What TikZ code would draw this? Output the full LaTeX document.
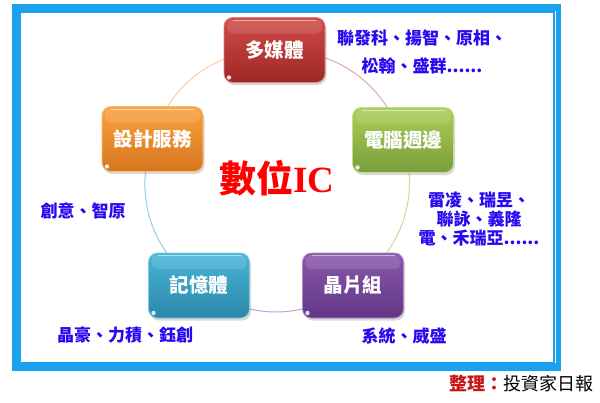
\documentclass[tikz,border=0pt]{standalone}
\usepackage{fontspec}
\setmainfont{Noto Sans CJK TC}
\newfontfamily\serifIC{Liberation Serif}
\usetikzlibrary{backgrounds,shadows}
\pgfdeclarelayer{back}
\pgfsetlayers{back,background,main}
\definecolor{framebl}{RGB}{26,163,236}
\definecolor{lblue}{RGB}{40,10,240}
\definecolor{footred}{RGB}{200,20,20}
\definecolor{redT}{RGB}{208,74,70}\definecolor{redB}{RGB}{158,40,38}
\definecolor{orT}{RGB}{250,162,62}\definecolor{orB}{RGB}{214,118,32}
\definecolor{grT}{RGB}{170,206,88}\definecolor{grB}{RGB}{122,158,58}
\definecolor{puT}{RGB}{138,88,172}\definecolor{puB}{RGB}{98,54,134}
\definecolor{teT}{RGB}{72,182,216}\definecolor{teB}{RGB}{44,134,170}
\begin{document}
\begin{tikzpicture}[x=1pt,y=-1pt,
  box/.style={rounded corners=9pt, minimum width=101pt, minimum height=65pt,
    text=white, font=\fontsize{19.5}{20}\selectfont\bfseries, line width=0.8pt,
    drop shadow={opacity=0.3,shadow xshift=1.5pt,shadow yshift=-2.5pt},
    path picture={
      \fill[white,opacity=0.12,rounded corners=6pt]
        ([xshift=3pt,yshift=-2pt]path picture bounding box.north west) rectangle
        ([xshift=-3pt,yshift=-16pt]path picture bounding box.north east);
      \draw[white,opacity=0.5,line width=1pt]
        ([xshift=9pt,yshift=-2.5pt]path picture bounding box.north west) --
        ([xshift=-9pt,yshift=-2.5pt]path picture bounding box.north east);
      \fill[white,opacity=0.85]
        ([xshift=5pt,yshift=5pt]path picture bounding box.south west) circle (2.2pt);
    }},
  redbox/.style={box, top color=redT, bottom color=redB, draw=redT!70!white},
  orbox/.style={box, top color=orT, bottom color=orB, draw=orT!70!white},
  grbox/.style={box, top color=grT, bottom color=grB, draw=grT!70!white},
  pubox/.style={box, top color=puT, bottom color=puB, draw=puT!70!white},
  tebox/.style={box, top color=teT, bottom color=teB, draw=teT!70!white},
  lbl/.style={text=lblue, font=\fontsize{17}{19}\selectfont\bfseries, align=center, inner sep=0pt},
  arcline/.style={line width=1pt}
]
\useasboundingbox (0,0) rectangle (600,402);
% frame
\begin{pgfonlayer}{back}
\fill[framebl] (12,4) rectangle (561,371);
\fill[white] (21,12.5) rectangle (553,362);
\draw[white, line width=0.8pt] (555,11) -- (555,363);
\end{pgfonlayer}

% nodes
\node[redbox] (m) at (274.5,50) {多媒體};
\node[orbox] (d) at (152.5,139) {設計服務};
\node[grbox] (c) at (403,140) {電腦週邊};
\node[tebox] (mem) at (199,285.5) {記憶體};
\node[pubox] (chip) at (353,285.5) {晶片組};

% arcs
\begin{pgfonlayer}{background}
\draw[arcline, color={rgb,255:red,250;green,206;blue,166}] (m.center) to[bend right=36] (d.center);
\draw[arcline, color={rgb,255:red,150;green,204;blue,228}] (d.center) to[bend right=36] (mem.center);
\draw[arcline, color={rgb,255:red,184;green,166;blue,214}] (mem.center) to[bend right=36] (chip.center);
\draw[arcline, color={rgb,255:red,196;green,222;blue,150}] (chip.center) to[bend right=36] (c.center);
\draw[arcline, color={rgb,255:red,226;green,168;blue,166}] (c.center) to[bend right=36] (m.center);
\end{pgfonlayer}

% center title
\node[text=red, font=\fontsize{37}{40}\selectfont\bfseries, inner sep=0pt] (title) at (277,178) {數位{\serifIC IC}};

% labels
\node[lbl, font=\fontsize{17}{28.5}\selectfont\bfseries] (lm) at (422,52) {聯發科、揚智、原相、\\松翰、盛群......};
\node[lbl] (lc) at (479,219) {雷凌、瑞昱、\\聯詠、義隆\\電、禾瑞亞......};
\node[lbl] (ld) at (83,211) {創意、智原};
\node[lbl] (lmem) at (125,335) {晶豪、力積、鈺創};
\node[lbl] (lchip) at (404,336) {系統、威盛};

% footer
\node[anchor=east, inner sep=0pt, font=\fontsize{18}{20}\selectfont] (foot) at (594,384) {{\color{footred}\bfseries 整理：}投資家日報};
\end{tikzpicture}
\end{document}
